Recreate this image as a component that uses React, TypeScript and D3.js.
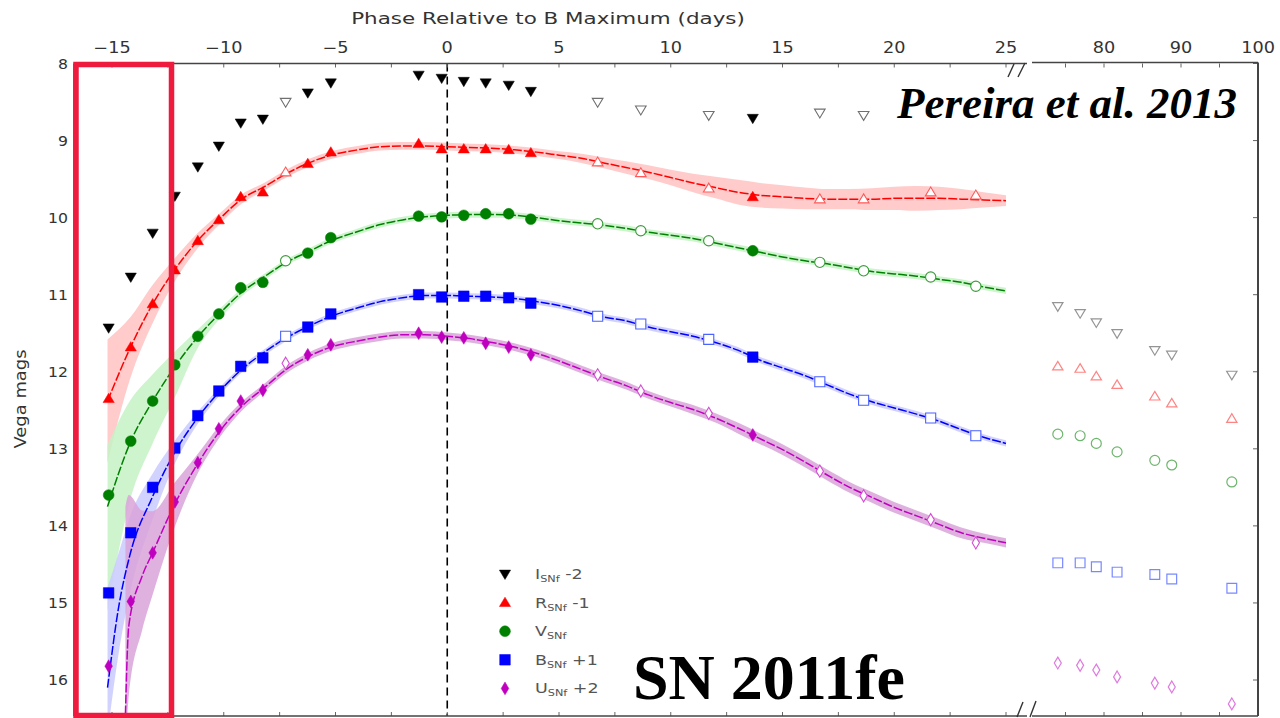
import React from "react";
import * as d3 from "d3";

// ---------- axis ticks ----------
const TOP_TICKS_L = [-15, -10, -5, 0, 5, 10, 15, 20, 25];
const MINOR_TICKS_L = [-15, -12.5, -10, -7.5, -5, -2.5, 0, 2.5, 5, 7.5, 10, 12.5, 15, 17.5, 20, 22.5, 25];
const TOP_TICKS_R = [80, 90, 100];
const MINOR_TICKS_R = [75, 80, 85, 90, 95, 100];
const Y_TICKS = [8, 9, 10, 11, 12, 13, 14, 15, 16];

// ---------- SNfactory photometry (filled markers) ----------
const SNF_PH = [-15.15, -14.16, -13.18, -12.19, -11.16, -10.22, -9.24, -8.25, -6.24, -5.21, -1.28, -0.25, 0.74, 1.72, 2.75, 3.74, 13.67];
const I_SNF = [11.43, 10.77, 10.2, 9.72, 9.34, 9.07, 8.77, 8.72, 8.38, 8.25, 8.15, 8.19, 8.23, 8.25, 8.28, 8.36, 8.71];
const R_SNF = [12.35, 11.68, 11.12, 10.68, 10.3, 10.03, 9.73, 9.67, 9.3, 9.15, 9.04, 9.11, 9.11, 9.11, 9.12, 9.16, 9.73];
const V_SNF = [13.6, 12.9, 12.38, 11.91, 11.54, 11.25, 10.91, 10.84, 10.46, 10.26, 9.98, 9.99, 9.97, 9.95, 9.95, 10.02, 10.43];
const B_SNF = [14.87, 14.09, 13.5, 12.99, 12.57, 12.25, 11.93, 11.82, 11.42, 11.25, 11.0, 11.03, 11.02, 11.02, 11.04, 11.11, 11.81];
const U_SNF = [15.82, 14.98, 14.35, 13.69, 13.18, 12.74, 12.38, 12.24, 11.78, 11.65, 11.5, 11.55, 11.56, 11.63, 11.68, 11.78, 12.82];

// ---------- other photometry (open markers) ----------
const OPEN_PH = [-7.23, 6.73, 8.66, 11.7, 16.67, 18.63, 21.63, 23.65];
const I_OPEN = [8.5, 8.5, 8.6, 8.67, 8.64, 8.67, NaN, NaN];
const R_OPEN = [9.41, 9.28, 9.42, 9.62, 9.76, 9.76, 9.67, 9.71];
const V_OPEN = [10.56, 10.08, 10.17, 10.3, 10.58, 10.69, 10.77, 10.89];
const B_OPEN = [11.54, 11.28, 11.38, 11.58, 12.13, 12.37, 12.6, 12.83];
const U_OPEN = [11.89, 12.04, 12.25, 12.54, 13.29, 13.61, 13.92, 14.22];

// ---------- late-time photometry (right panel) ----------
const LATE_PH = [74.0, 76.9, 79.0, 81.7, 86.6, 88.8, 96.6];
const I_LATE = [11.15, 11.24, 11.36, 11.5, 11.72, 11.78, 12.04];
const R_LATE = [11.93, 11.96, 12.06, 12.17, 12.32, 12.41, 12.61];
const V_LATE = [12.81, 12.83, 12.93, 13.04, 13.15, 13.21, 13.43];
const B_LATE = [14.48, 14.48, 14.53, 14.6, 14.63, 14.69, 14.81];
const U_LATE = [15.78, 15.81, 15.87, 15.96, 16.04, 16.09, 16.31];

// ---------- model curves ----------
const G_PH = [-15.2, -14.2, -13.2, -12.2, -11.2, -10.2, -9.2, -8.2, -7.2, -6.2, -5.2, -4, -3, -2, -1, 0, 1, 2, 3, 4, 5, 6, 7, 8, 9, 10, 11, 12, 13, 14, 15, 16, 17, 18, 19, 20, 21, 22, 23, 24, 25];
const R_MOD = [12.38, 11.7, 11.13, 10.68, 10.31, 10.02, 9.76, 9.6, 9.43, 9.29, 9.19, 9.12, 9.08, 9.07, 9.07, 9.08, 9.09, 9.1, 9.12, 9.15, 9.19, 9.23, 9.29, 9.35, 9.41, 9.48, 9.55, 9.61, 9.67, 9.71, 9.73, 9.75, 9.76, 9.76, 9.76, 9.75, 9.75, 9.75, 9.76, 9.77, 9.78];
const R_ERR = [0.8, 0.4, 0.25, 0.15, 0.1, 0.07, 0.06, 0.05, 0.05, 0.05, 0.05, 0.05, 0.05, 0.05, 0.05, 0.05, 0.05, 0.05, 0.05, 0.05, 0.05, 0.06, 0.07, 0.08, 0.09, 0.1, 0.12, 0.14, 0.16, 0.16, 0.15, 0.14, 0.13, 0.13, 0.14, 0.15, 0.16, 0.15, 0.13, 0.1, 0.07];

const V_MOD = [13.75, 12.93, 12.39, 11.94, 11.56, 11.25, 10.97, 10.77, 10.58, 10.44, 10.3, 10.18, 10.09, 10.03, 9.99, 9.97, 9.96, 9.96, 9.97, 10.0, 10.04, 10.07, 10.1, 10.14, 10.19, 10.23, 10.27, 10.33, 10.39, 10.45, 10.51, 10.56, 10.6, 10.65, 10.7, 10.73, 10.76, 10.8, 10.84, 10.9, 10.95];
const V_ERR_UP = [0.8, 0.55, 0.35, 0.2, 0.1, 0.06, 0.05, 0.04, 0.04, 0.04, 0.04, 0.04, 0.04, 0.04, 0.04, 0.04, 0.04, 0.04, 0.04, 0.04, 0.04, 0.04, 0.04, 0.04, 0.04, 0.04, 0.04, 0.04, 0.04, 0.04, 0.04, 0.04, 0.04, 0.04, 0.04, 0.04, 0.04, 0.04, 0.04, 0.04, 0.04];
const V_ERR_DN = [1.35, 0.75, 0.55, 0.4, 0.15, 0.07, 0.05, 0.04, 0.04, 0.04, 0.04, 0.04, 0.04, 0.04, 0.04, 0.04, 0.04, 0.04, 0.04, 0.04, 0.04, 0.04, 0.04, 0.04, 0.04, 0.04, 0.04, 0.04, 0.04, 0.04, 0.04, 0.04, 0.04, 0.04, 0.04, 0.04, 0.04, 0.04, 0.04, 0.04, 0.04];

const B_PH = [-15.2, -14.7, -14.2, -13.2, -12.2, -11.2, -10.2, -9.2, -8.2, -7.2, -6.2, -5.2, -4, -3, -2, -1, 0, 1, 2, 3, 4, 5, 6, 7, 8, 9, 10, 11, 12, 13, 14, 15, 16, 17, 18, 19, 20, 21, 22, 23, 24, 25];
const B_MOD = [16.1, 15.05, 14.38, 13.63, 13.05, 12.61, 12.26, 11.97, 11.75, 11.56, 11.41, 11.28, 11.17, 11.09, 11.04, 11.01, 11.01, 11.02, 11.03, 11.05, 11.09, 11.14, 11.21, 11.29, 11.34, 11.42, 11.48, 11.54, 11.62, 11.72, 11.85, 11.95, 12.05, 12.17, 12.29, 12.39, 12.47, 12.55, 12.64, 12.75, 12.85, 12.93];
const B_ERR_UP = [1.3, 0.7, 0.5, 0.3, 0.15, 0.08, 0.05, 0.04, 0.04, 0.04, 0.04, 0.04, 0.04, 0.04, 0.04, 0.04, 0.04, 0.04, 0.04, 0.04, 0.04, 0.04, 0.04, 0.04, 0.04, 0.04, 0.04, 0.04, 0.04, 0.04, 0.04, 0.04, 0.04, 0.04, 0.04, 0.04, 0.04, 0.04, 0.04, 0.04, 0.04, 0.04];
const B_ERR_DN = [0.6, 0.6, 0.5, 0.3, 0.15, 0.08, 0.05, 0.04, 0.04, 0.04, 0.04, 0.04, 0.04, 0.04, 0.04, 0.04, 0.04, 0.04, 0.04, 0.04, 0.04, 0.04, 0.04, 0.04, 0.04, 0.04, 0.04, 0.04, 0.04, 0.04, 0.04, 0.04, 0.04, 0.04, 0.04, 0.04, 0.04, 0.04, 0.04, 0.04, 0.04, 0.04];

const U_PH = [-14.4, -14.25, -13.65, -13.2, -12.2, -11.2, -10.2, -9.2, -8.2, -7.2, -6.2, -5.2, -4, -3, -2, -1, 0, 1, 2, 3, 4, 5, 6, 7, 8, 9, 10, 11, 12, 13, 14, 15, 16, 17, 18, 19, 20, 21, 22, 23, 24, 25];
const U_MOD = [16.45, 15.3, 14.65, 14.36, 13.72, 13.21, 12.78, 12.45, 12.21, 11.97, 11.8, 11.68, 11.6, 11.55, 11.52, 11.52, 11.54, 11.57, 11.62, 11.68, 11.76, 11.86, 11.97, 12.08, 12.18, 12.3, 12.4, 12.49, 12.6, 12.73, 12.87, 13.01, 13.17, 13.34, 13.5, 13.63, 13.76, 13.87, 13.98, 14.09, 14.16, 14.22];
const U_ERR_UP = [2.7, 1.7, 0.85, 0.55, 0.28, 0.13, 0.08, 0.06, 0.05, 0.05, 0.05, 0.05, 0.05, 0.05, 0.05, 0.05, 0.05, 0.05, 0.05, 0.05, 0.05, 0.05, 0.05, 0.05, 0.05, 0.05, 0.05, 0.06, 0.06, 0.07, 0.07, 0.07, 0.07, 0.07, 0.07, 0.07, 0.07, 0.07, 0.07, 0.07, 0.06, 0.06];
const U_ERR_DN = [0.6, 0.9, 0.7, 0.55, 0.3, 0.13, 0.08, 0.06, 0.05, 0.05, 0.05, 0.05, 0.05, 0.05, 0.05, 0.05, 0.05, 0.05, 0.05, 0.05, 0.05, 0.05, 0.05, 0.05, 0.05, 0.05, 0.05, 0.06, 0.06, 0.07, 0.07, 0.07, 0.07, 0.07, 0.07, 0.07, 0.07, 0.07, 0.07, 0.07, 0.06, 0.06];

const LEGEND = [
  { base: "I", sub: "SNf", off: " -2", key: "I" },
  { base: "R", sub: "SNf", off: " -1", key: "R" },
  { base: "V", sub: "SNf", off: "", key: "V" },
  { base: "B", sub: "SNf", off: " +1", key: "B" },
  { base: "U", sub: "SNf", off: " +2", key: "U" },
];

// ---------- styles ----------
const COLORS: Record<string, string> = { I: "#000000", R: "#ff0000", V: "#008000", B: "#0000ff", U: "#bf00bf" };
const OPEN_COLORS: Record<string, string> = { I: "#707070", R: "#ff5a5a", V: "#3c9c3c", B: "#4a62ff", U: "#d44cd4" };
const BAND_COLORS: Record<string, string> = { R: "#ffc2c2", V: "#c6f2c6", B: "#cacaff", U: "#d9a3d9" };

// ---------- layout ----------
const W = 1280, H = 718;
const LEFT = 74, LRIGHT = 1027, RLEFT = 1032, RIGHT = 1258, TOP = 63.5, BOTTOM = 716;
const SX = 1.25; // horizontal stretch of the source figure's text

const xL = d3.scaleLinear().domain([-15, 25]).range([112, 1006]);
const xR = d3.scaleLinear().domain([80, 100]).range([1104, 1258]);
const y = d3.scaleLinear().domain([8, 16]).range([63.5, 680]);

function markerPath(key: string, cx: number, cy: number, s = 1): string {
  const p = d3.path();
  if (key === "I") {
    const w = 5.6 * s, h = 5.2 * s;
    p.moveTo(cx - w, cy - h * 0.75); p.lineTo(cx + w, cy - h * 0.75); p.lineTo(cx, cy + h * 1.05); p.closePath();
  } else if (key === "R") {
    const w = 5.6 * s, h = 5.2 * s;
    p.moveTo(cx - w, cy + h * 0.75); p.lineTo(cx + w, cy + h * 0.75); p.lineTo(cx, cy - h * 1.05); p.closePath();
  } else if (key === "V") {
    p.arc(cx, cy, 5.4 * s, 0, Math.PI * 2);
  } else if (key === "B") {
    const a = 5.3 * s;
    p.rect(cx - a, cy - a, 2 * a, 2 * a);
  } else {
    const w = 3.8 * s, h = 6.4 * s;
    p.moveTo(cx, cy - h); p.lineTo(cx + w, cy); p.lineTo(cx, cy + h); p.lineTo(cx - w, cy); p.closePath();
  }
  return p.toString();
}

type Curve = { key: string; ph: number[]; mag: number[]; up: number[]; dn: number[] };
const CURVES: Curve[] = [
  { key: "R", ph: G_PH, mag: R_MOD, up: R_ERR, dn: R_ERR },
  { key: "V", ph: G_PH, mag: V_MOD, up: V_ERR_UP, dn: V_ERR_DN },
  { key: "B", ph: B_PH, mag: B_MOD, up: B_ERR_UP, dn: B_ERR_DN },
  { key: "U", ph: U_PH, mag: U_MOD, up: U_ERR_UP, dn: U_ERR_DN },
];

const SERIES = [
  { key: "I", snf: I_SNF, open: I_OPEN, late: I_LATE },
  { key: "R", snf: R_SNF, open: R_OPEN, late: R_LATE },
  { key: "V", snf: V_SNF, open: V_OPEN, late: V_LATE },
  { key: "B", snf: B_SNF, open: B_OPEN, late: B_LATE },
  { key: "U", snf: U_SNF, open: U_OPEN, late: U_LATE },
];

const FONT = "'DejaVu Sans', sans-serif";

function SText(props: { x: number; y: number; sx?: number; anchor?: string; size: number; fill?: string; children: React.ReactNode }) {
  const { x, y: yy, sx = SX, anchor = "middle", size, fill = "#333", children } = props;
  return (
    <text transform={`translate(${x},${yy}) scale(${sx},1)`} textAnchor={anchor} fontFamily={FONT} fontSize={size} fill={fill}>
      {children}
    </text>
  );
}

export default function App() {
  const line = d3.line<[number, number]>()
    .x((d) => xL(d[0]))
    .y((d) => y(d[1]))
    .curve(d3.curveMonotoneX);

  return (
    <svg width={W} height={H} style={{ position: "absolute", left: 0, top: 0, display: "block", background: "#fff" }}>
      <defs>
        <clipPath id="clipL">
          <rect x={LEFT} y={TOP} width={LRIGHT - LEFT} height={BOTTOM - TOP} />
        </clipPath>
        <clipPath id="clipR">
          <rect x={RLEFT} y={TOP} width={RIGHT - RLEFT} height={BOTTOM - TOP} />
        </clipPath>
      </defs>
      <rect x={0} y={0} width={W} height={H} fill="#fff" />

      {/* bands */}
      <g clipPath="url(#clipL)">
        {CURVES.map((c) => {
          const idx = c.ph.map((_, i) => i);
          const a = d3.area<number>()
            .x((i) => xL(c.ph[i]))
            .y0((i) => y(c.mag[i] + c.dn[i]))
            .y1((i) => y(c.mag[i] - c.up[i]))
            .curve(d3.curveMonotoneX);
          return <path key={"band" + c.key} d={a(idx) || ""} fill={BAND_COLORS[c.key]} fillOpacity={0.85} stroke="none" />;
        })}
        {/* zero-phase line */}
        <line x1={xL(0)} x2={xL(0)} y1={TOP} y2={BOTTOM} stroke="#000" strokeWidth={1.6} strokeDasharray="8,5" />
        {CURVES.map((c) => (
          <path key={"line" + c.key}
            d={line(c.ph.map((p, i) => [p, c.mag[i]] as [number, number])) || ""}
            fill="none" stroke={COLORS[c.key]} strokeWidth={1.5} strokeDasharray="9,2" />
        ))}
        {SERIES.map((s) => (
          <g key={"open" + s.key}>
            {OPEN_PH.map((p, i) => isNaN(s.open[i]) ? null : (
              <path key={i} d={markerPath(s.key, xL(p), y(s.open[i]), 0.95)} fill="#fff" stroke={OPEN_COLORS[s.key]} strokeWidth={1.1} />
            ))}
          </g>
        ))}
        {SERIES.map((s) => (
          <g key={"snf" + s.key}>
            {SNF_PH.map((p, i) => (
              <path key={i} d={markerPath(s.key, xL(p), y(s.snf[i]))} fill={COLORS[s.key]} stroke={COLORS[s.key]} strokeWidth={0.5} />
            ))}
          </g>
        ))}
      </g>

      {/* right panel */}
      <g clipPath="url(#clipR)">
        {SERIES.map((s) => (
          <g key={"late" + s.key}>
            {LATE_PH.map((p, i) => (
              <path key={i} d={markerPath(s.key, xR(p), y(s.late[i]), 0.92)} fill="#fff" stroke={OPEN_COLORS[s.key]} strokeOpacity={0.75} strokeWidth={1.2} />
            ))}
          </g>
        ))}
      </g>

      {/* ticks */}
      <g stroke="#666" strokeWidth={1}>
        {MINOR_TICKS_L.map((t) => (
          <g key={"tl" + t}>
            <line x1={xL(t)} x2={xL(t)} y1={TOP} y2={TOP + 4} />
            <line x1={xL(t)} x2={xL(t)} y1={BOTTOM} y2={BOTTOM - 4} />
          </g>
        ))}
        {MINOR_TICKS_R.map((t) => (
          <g key={"tr" + t}>
            <line x1={xR(t)} x2={xR(t)} y1={TOP} y2={TOP + 4} />
            <line x1={xR(t)} x2={xR(t)} y1={BOTTOM} y2={BOTTOM - 4} />
          </g>
        ))}
        {Y_TICKS.map((t) => (
          <g key={"ty" + t}>
            <line x1={LEFT} x2={LEFT + 4} y1={y(t)} y2={y(t)} />
            <line x1={RIGHT} x2={RIGHT - 5} y1={y(t)} y2={y(t)} />
          </g>
        ))}
      </g>

      {/* spines */}
      <g stroke="#444" strokeWidth={1.6} fill="none">
        <line x1={LEFT} x2={LRIGHT} y1={TOP} y2={TOP} />
        <line x1={LEFT} x2={LRIGHT} y1={BOTTOM} y2={BOTTOM} />
        <line x1={LEFT} x2={LEFT} y1={TOP} y2={BOTTOM} />
        <line x1={RLEFT} x2={RIGHT} y1={TOP - 1} y2={TOP - 1} />
        <line x1={RLEFT} x2={RIGHT} y1={BOTTOM} y2={BOTTOM} />
        <line x1={RIGHT} x2={RIGHT} y1={TOP - 1} y2={BOTTOM} strokeWidth={2} />
      </g>
      {/* break marks */}
      <g stroke="#333" strokeWidth={1.4}>
        <line x1={1008} y1={77} x2={1014} y2={64} />
        <line x1={1018} y1={77} x2={1025} y2={63} />
        <line x1={1017} y1={717} x2={1023} y2={702} />
        <line x1={1030} y1={717} x2={1036} y2={701} />
      </g>

      {/* tick labels */}
      {TOP_TICKS_L.map((t) => (
        <SText key={"ll" + t} x={xL(t)} y={53} size={15} sx={1.18}>{t < 0 ? "\u2212" + Math.abs(t) : String(t)}</SText>
      ))}
      {TOP_TICKS_R.map((t) => (
        <SText key={"lr" + t} x={xR(t)} y={53} size={15} sx={1.18}>{String(t)}</SText>
      ))}
      {Y_TICKS.map((t) => (
        <SText key={"ly" + t} x={68} y={y(t) + 5} size={14} sx={1.12} anchor="end">{String(t)}</SText>
      ))}
      <SText x={548} y={24} size={16.5} sx={1.3}>Phase Relative to B Maximum (days)</SText>
      <text transform="translate(26,399) rotate(-90) scale(1.12,1)" fontFamily={FONT} fontSize={16} fill="#333" textAnchor="middle">Vega mags</text>

      {/* legend */}
      {LEGEND.map((l, i) => {
        const ly = 574 + i * 28.6;
        return (
          <g key={l.key}>
            <path d={markerPath(l.key, 505, ly)} fill={COLORS[l.key]} stroke={COLORS[l.key]} strokeWidth={0.5} />
            <SText x={535} y={ly + 5} size={14} sx={1.25} anchor="start" fill="#555">
              {l.base}
              <tspan fontSize={9} dy={3}>{l.sub}</tspan>
              <tspan dy={-3} fontSize={14}>{l.off}</tspan>
            </SText>
          </g>
        );
      })}

      {/* annotations */}
      <text x={897} y={118} fontFamily="'Liberation Serif', 'Times New Roman', serif" fontStyle="italic" fontWeight="bold" fontSize={45} fill="#000">Pereira et al. 2013</text>
      <text x={633} y={699} fontFamily="'Liberation Serif', 'Times New Roman', serif" fontWeight="bold" fontSize={64} fill="#000">SN 2011fe</text>

      {/* highlight box */}
      <rect x={76} y={64.5} width={95.5} height={651} fill="none" stroke="#ee1b3f" strokeWidth={5.5} />
    </svg>
  );
}
